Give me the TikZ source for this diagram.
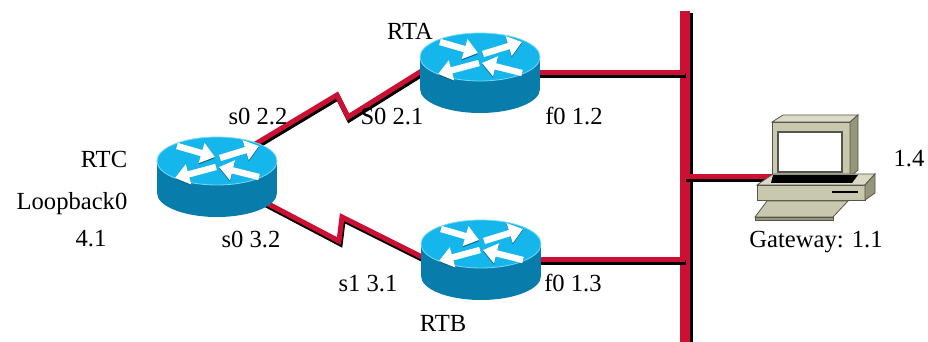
\documentclass[tikz,border=0pt]{standalone}
\usepackage{fontspec}
\setmainfont{Liberation Serif}
\usepackage{tikz}
\usetikzlibrary{arrows.meta}

\definecolor{linkred}{RGB}{204,16,52}
\definecolor{rtop}{RGB}{20,182,236}
\definecolor{rside}{RGB}{8,124,170}
\definecolor{rrim}{RGB}{120,215,245}
\definecolor{rshade}{RGB}{10,100,140}
\definecolor{pcface}{RGB}{200,200,174}
\definecolor{pctop}{RGB}{218,218,198}
\definecolor{pcside}{RGB}{150,150,122}
\definecolor{pcline}{RGB}{85,85,75}

\tikzset{
  rarrow/.style={white, line width=3.2pt, -{Triangle[length=7pt,width=10pt]},
    preaction={draw=rshade, transform canvas={yshift=-0.6pt}}},
  router/.pic={
    \fill[rside] (0,16) ellipse[x radius=60, y radius=24];
    \fill[rside] (-60,-16) rectangle (60,16);
    \fill[rtop] (0,-16) ellipse[x radius=60, y radius=24];
    \draw[rrim, line width=0.4pt] (0,-16) ellipse[x radius=60, y radius=24];
    \begin{scope}[shift={(0,-16)}]
      \draw[rarrow] (-40,-15) -- (-2,-4);
      \draw[rarrow] (3,-3) -- (42,-15);
      \draw[rarrow] (-1,6) -- (-42,17);
      \draw[rarrow] (42,16) -- (2,6);
    \end{scope}
  },
  pc/.pic={
    % monitor
    \filldraw[fill=pcface, draw=pcline, line width=0.4pt] (-43,-48) rectangle (35,7);
    \filldraw[fill=pctop, draw=pcline, line width=0.4pt] (-43,-48) -- (-32,-55) -- (43,-55) -- (35,-48) -- cycle;
    \filldraw[fill=pcside, draw=pcline, line width=0.4pt] (35,-48) -- (43,-55) -- (43,0) -- (35,7) -- cycle;
    \filldraw[fill=white, draw=pcline, line width=0.6pt] (-37,-38) rectangle (27,2);
    % base
    \filldraw[fill=pctop, draw=pcline, line width=0.4pt] (-42,4) -- (60,4) -- (50,15) -- (-58,15) -- cycle;
    \fill[black] (-42,5) -- (43,5) -- (37,13) -- (-44,13) -- cycle;
    \filldraw[fill=pcface, draw=pcline, line width=0.4pt] (-58,15) rectangle (50,30);
    \filldraw[fill=pcside, draw=pcline, line width=0.4pt] (50,15) -- (60,4) -- (60,23) -- (50,30) -- cycle;
    \draw[black, line width=0.9pt] (17,22) -- (43,22);
    % keyboard
    \filldraw[fill=pcface, draw=pcline, line width=0.4pt] (-48,31) -- (33,31) -- (18,47) -- (-60,47) -- cycle;
    \filldraw[fill=pcside, draw=pcline, line width=0.4pt] (-60,47) rectangle (18,50);
  }
}

\begin{document}
\begin{tikzpicture}[x=0.5pt, y=-0.5pt,
  devbox/.style={inner sep=0pt, minimum width=60pt, minimum height=40pt},
  link/.style={draw=linkred, line width=2.5pt,
    preaction={draw=black, line width=2.5pt, transform canvas={xshift=0.6pt, yshift=-1.4pt}}},
  bus/.style={draw=linkred, line width=5pt,
    preaction={draw=black, line width=5pt, transform canvas={xshift=1.5pt, yshift=-1pt}}},
  lbl/.style={anchor=base, inner sep=0pt, font=\fontsize{12.3}{14}\selectfont}]
\useasboundingbox (0,0) rectangle (928,342);

%%%%% Devices %%%%%
\node[devbox] (rta) at (480,73) {};
\node[devbox] (rtb) at (481,260) {};
\node[devbox] (rtc) at (217,177) {};
\node[devbox] (gw) at (815,177) {};

%%%%% Ethernet %%%%%
\coordinate (bustop) at (685,11);
\coordinate (busbot) at (685,342);
\coordinate (busA) at (685,73);
\coordinate (busG) at (685,177);
\coordinate (busB) at (685,260);
\draw[bus] (bustop) -- (busbot);
\draw[link] (rta.center) -- (busA);
\draw[link] (rtb.center) -- (busB);
\draw[link] (busG) -- (gw.center);

%%%%% Serial links %%%%%
\coordinate (zA1) at (337,95);
\coordinate (zA2) at (348,117);
\coordinate (zB1) at (339,241);
\coordinate (zB2) at (342,217);
\draw[link] ([shift={(20,-22)}]rtc.center) -- (zA1) -- (zA2) -- ([shift={(-20,-26)}]rta.center);
\draw[link] (rtc.center) -- (zB1) -- (zB2) -- ([shift={(-31,11)}]rtb.center);

\pic at (rta) {router};
\pic at (rtb) {router};
\pic at (rtc) {router};
\pic at (815,170) {pc};

%%%%% Labels %%%%%
\node[lbl] (lrta) at (410,40) {RTA};
\node[lbl] (lrtb) at (443,332) {RTB};
\node[lbl] (lrtc) at (104,168) {RTC};
\node[lbl] (lloop) at (72,210) {Loopback0};
\node[lbl] (lloopip) at (91,247) {4.1};
\node[lbl] (lcs0) at (258,125) {s0 2.2};
\node[lbl] (las0) at (392,125) {S0 2.1};
\node[lbl] (laf0) at (574,125) {f0 1.2};
\node[lbl] (lcs1) at (251,248) {s0 3.2};
\node[lbl] (lbs1) at (368,292) {s1 3.1};
\node[lbl] (lbf0) at (573,292) {f0 1.3};
\node[lbl] (lpcip) at (909,167) {1.4};
\node[lbl] (lgw) at (816,248) {Gateway: 1.1};
\end{tikzpicture}
\end{document}
